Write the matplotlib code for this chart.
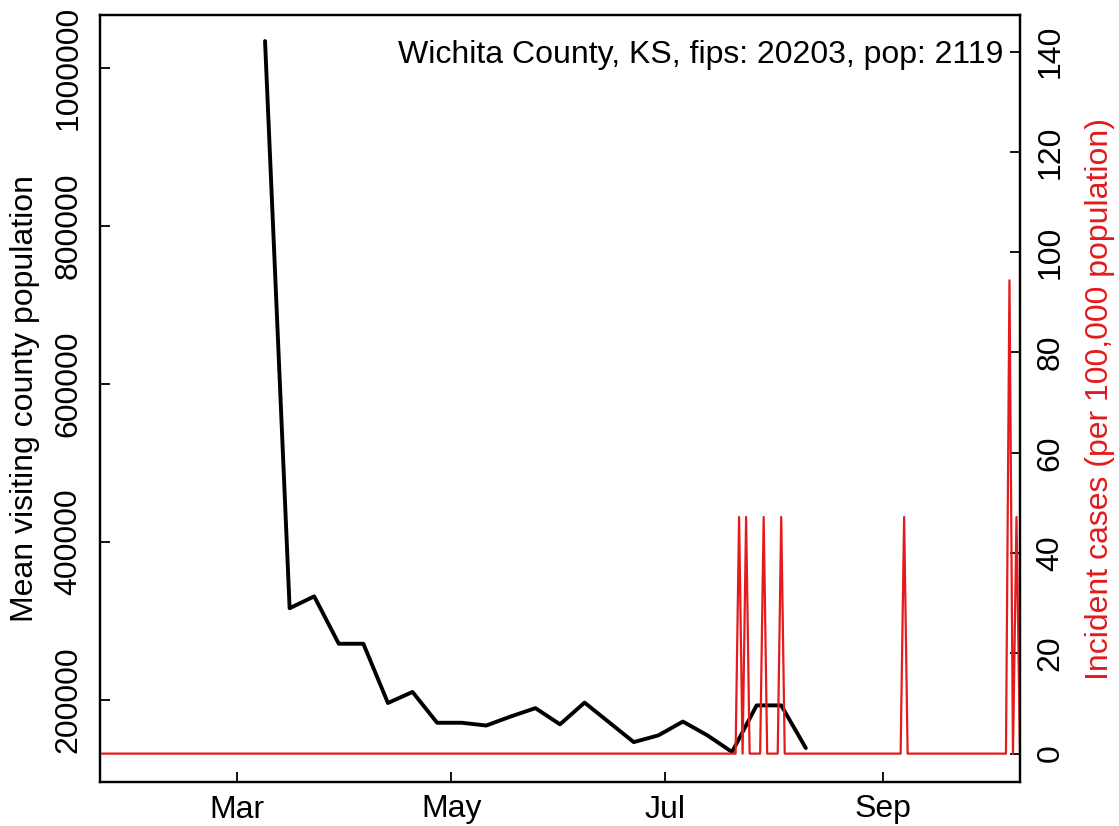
import numpy as np
import pandas as pd
import matplotlib
matplotlib.use('Agg')
import matplotlib.pyplot as plt

plt.rcParams['font.family'] = ['Liberation Sans', 'DejaVu Sans']

# county info
county = 'Wichita County, KS'
fips = 20203
pop = 2119

# weekly mean visiting population (black line)
week_start = '2020-03-09'
visits = [1034000, 316000, 331000, 271000, 271000, 196000, 210000, 171000,
          171000, 167500, 179000, 189500, 169000, 196500, 171500, 146500,
          155000, 172500, 155000, 134000, 193000, 193000, 139000]

# daily incident cases (red line), zero on all other days
first_day = '2020-01-22'
last_day = '2020-10-10'
case_dates = ['2020-07-22', '2020-07-24', '2020-07-29', '2020-08-03',
              '2020-09-07', '2020-10-07', '2020-10-09']
case_counts = [1, 1, 1, 1, 1, 2, 1]

month_ticks = ['2020-03-01', '2020-05-01', '2020-07-01', '2020-09-01']
month_labels = ['Mar', 'May', 'Jul', 'Sep']

weeks = pd.date_range(week_start, periods=len(visits), freq='7D')
days = pd.date_range(first_day, last_day)
cases = pd.Series(0.0, index=days)
cases[pd.to_datetime(case_dates)] = case_counts
rate = cases * 100000 / pop

fs = 23
red = '#e41a1c'

fig = plt.figure(figsize=(11.19, 8.26), dpi=100)
ax = fig.add_axes([100/1119, 1 - 782/826, 920/1119, 767/826])
ax.plot(weeks, visits, color='black', lw=2.8, solid_joinstyle='round', solid_capstyle='round')
ax.set_xlim(days[0], days[-1])
ax.set_ylim(96000, 1067000)
ax.set_yticks([200000, 400000, 600000, 800000, 1000000])
ax.set_yticklabels(['200000', '400000', '600000', '800000', '1000000'])
ax.set_xticks(pd.to_datetime(month_ticks))
ax.set_xticklabels(month_labels)
ax.tick_params(axis='y', direction='in', length=7, width=1.3, labelsize=fs, pad=12, labelrotation=90)
ax.tick_params(axis='x', direction='in', length=7, width=1.3, labelsize=fs, pad=9)
for lbl in ax.get_yticklabels():
    lbl.set_va('center')
ax.set_ylabel('Mean visiting county population', fontsize=fs, va='center')
ax.yaxis.set_label_coords(-0.0815, 0.5)
for s in ax.spines.values():
    s.set_linewidth(1.6)

ax2 = ax.twinx()
ax2.plot(days, rate.values, color=red, lw=1.6)
ax2.set_ylim(-5.66, 147.3)
ax2.set_yticks(np.arange(0, 141, 20))
ax2.tick_params(axis='y', direction='in', length=7, width=1.3, labelsize=fs, pad=11, labelrotation=90)
for lbl in ax2.get_yticklabels():
    lbl.set_va('center')
ax2.set_ylabel('Incident cases (per 100,000 population)', fontsize=fs, color=red,
               rotation=90, va='center')
ax2.yaxis.set_label_coords(1.087, 0.5)
for s in ax2.spines.values():
    s.set_linewidth(1.6)

ax.text(0.9815, 0.948, f'{county}, fips: {fips}, pop: {pop}', transform=ax.transAxes,
        ha='right', va='center', fontsize=fs)

fig.savefig('out.png', dpi=100)
